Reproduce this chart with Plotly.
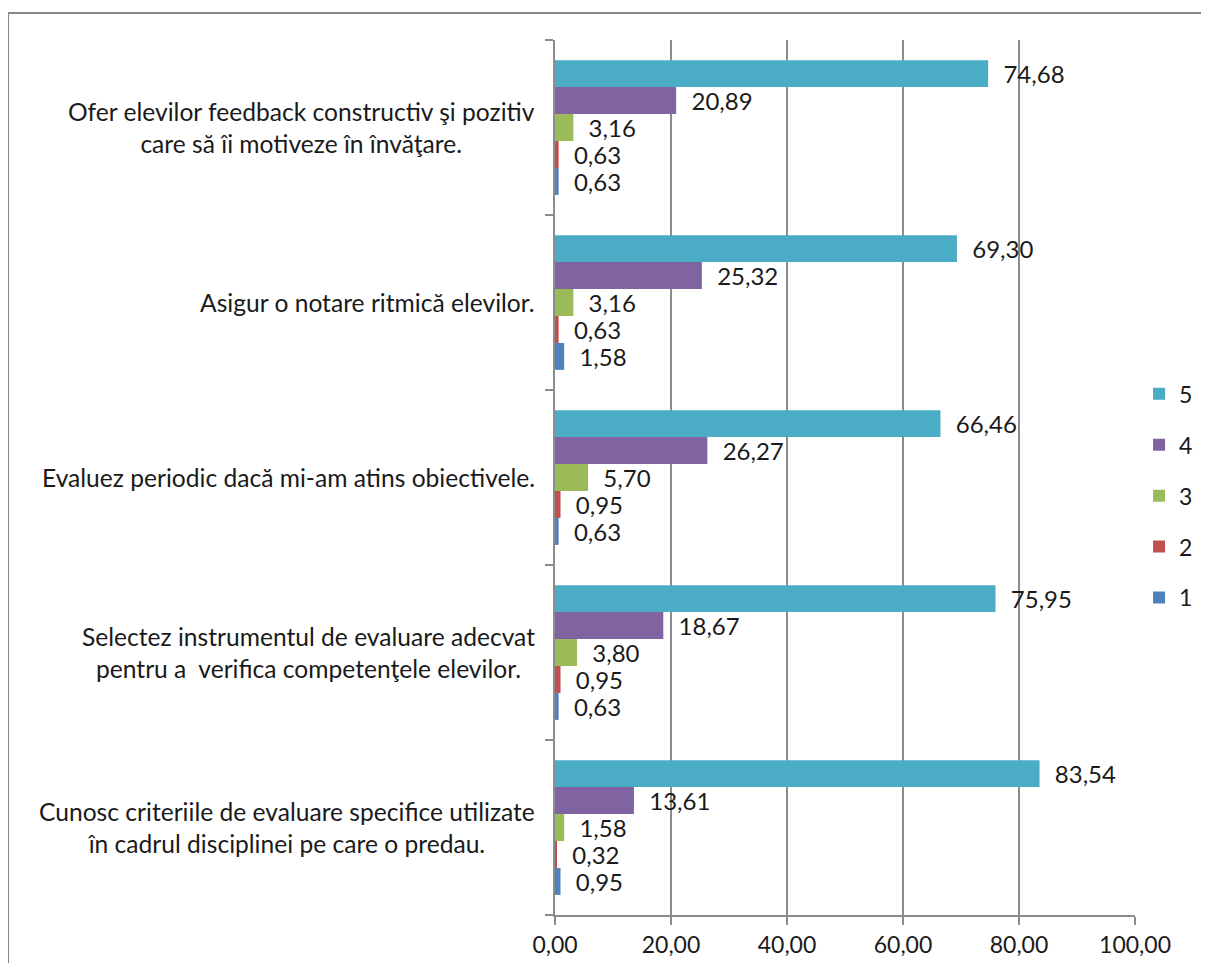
import plotly.graph_objects as go

categories = [
    "Cunosc criteriile de evaluare specifice utilizate<br>în cadrul disciplinei pe care o predau.",
    "Selectez instrumentul de evaluare adecvat<br>pentru a  verifica competenţele elevilor.",
    "Evaluez periodic dacă mi-am atins obiectivele.",
    "Asigur o notare ritmică elevilor.",
    "Ofer elevilor feedback constructiv şi pozitiv<br>care să îi motiveze în învăţare.",
]
series_names = ["1", "2", "3", "4", "5"]
s1 = [0.95, 0.63, 0.63, 1.58, 0.63]
s2 = [0.32, 0.95, 0.95, 0.63, 0.63]
s3 = [1.58, 3.80, 5.70, 3.16, 3.16]
s4 = [13.61, 18.67, 26.27, 25.32, 20.89]
s5 = [83.54, 75.95, 66.46, 69.30, 74.68]
series_values = [s1, s2, s3, s4, s5]
colors = ["#4F81BD", "#C0504D", "#9BBB59", "#8064A2", "#4BACC6"]
x_ticks = [0, 20, 40, 60, 80, 100]

FONT = "Lato, Carlito, Calibri, sans-serif"
TXT = "#1a1a1a"

fig = go.Figure()
for i, (name, vals, col) in enumerate(zip(series_names, series_values, colors)):
    fig.add_trace(go.Bar(
        y=categories, x=vals, name=name, orientation="h",
        marker=dict(color=col, line=dict(width=0)),
        texttemplate="\u00a0\u00a0%{x:.2f}", textposition="outside",
        textfont=dict(family=FONT, size=24, color=TXT),
        constraintext="none",
        cliponaxis=False, legendgroup=name,
        legendrank=len(series_names) - i,
    ))

annotations = []
for c in categories:
    annotations.append(dict(
        xref="paper", yref="y", x=0, y=c, xshift=-18,
        xanchor="right", yanchor="middle", align="center",
        text=c, showarrow=False,
        font=dict(family=FONT, size=24.6, color=TXT),
    ))

border = dict(color="#888888", width=2)
fig.update_layout(
    width=1193, height=955,
    margin=dict(l=547, r=66, t=32, b=48, autoexpand=False),
    paper_bgcolor="white", plot_bgcolor="white",
    barmode="group", bargap=0.23, bargroupgap=0,
    separators=",.",
    font=dict(family=FONT, size=23, color=TXT),
    showlegend=True,
    legend=dict(
        x=1.007, y=0.479, xanchor="left", yanchor="middle",
        traceorder="grouped", tracegroupgap=18,
        font=dict(family=FONT, size=23, color=TXT),
        itemwidth=30, bgcolor="rgba(0,0,0,0)",
    ),
    annotations=annotations,
    shapes=[
        dict(type="line", xref="paper", yref="paper",
             x0=-0.943, x1=1.2, y0=1.031, y1=1.031, line=border, layer="below"),
        dict(type="line", xref="paper", yref="paper",
             x0=-0.943, x1=-0.943, y0=-0.1, y1=1.031, line=border, layer="below"),
    ],
)

fig.update_xaxes(
    range=[0, 100], tickvals=x_ticks, tickformat=".2f",
    showgrid=True, gridcolor="#8c8c8c", gridwidth=2,
    showline=True, linecolor="#8c8c8c", linewidth=2,
    ticks="outside", ticklen=8, tickwidth=2, tickcolor="#8c8c8c",
    tickfont=dict(family=FONT, size=23, color=TXT),
    zeroline=False,
)
fig.update_yaxes(
    showticklabels=False,
    showline=True, linecolor="#8c8c8c", linewidth=2,
    ticks="outside", ticklen=8, tickwidth=2, tickcolor="#8c8c8c",
    tickson="boundaries", showgrid=False,
)

fig.write_html("out.html")
